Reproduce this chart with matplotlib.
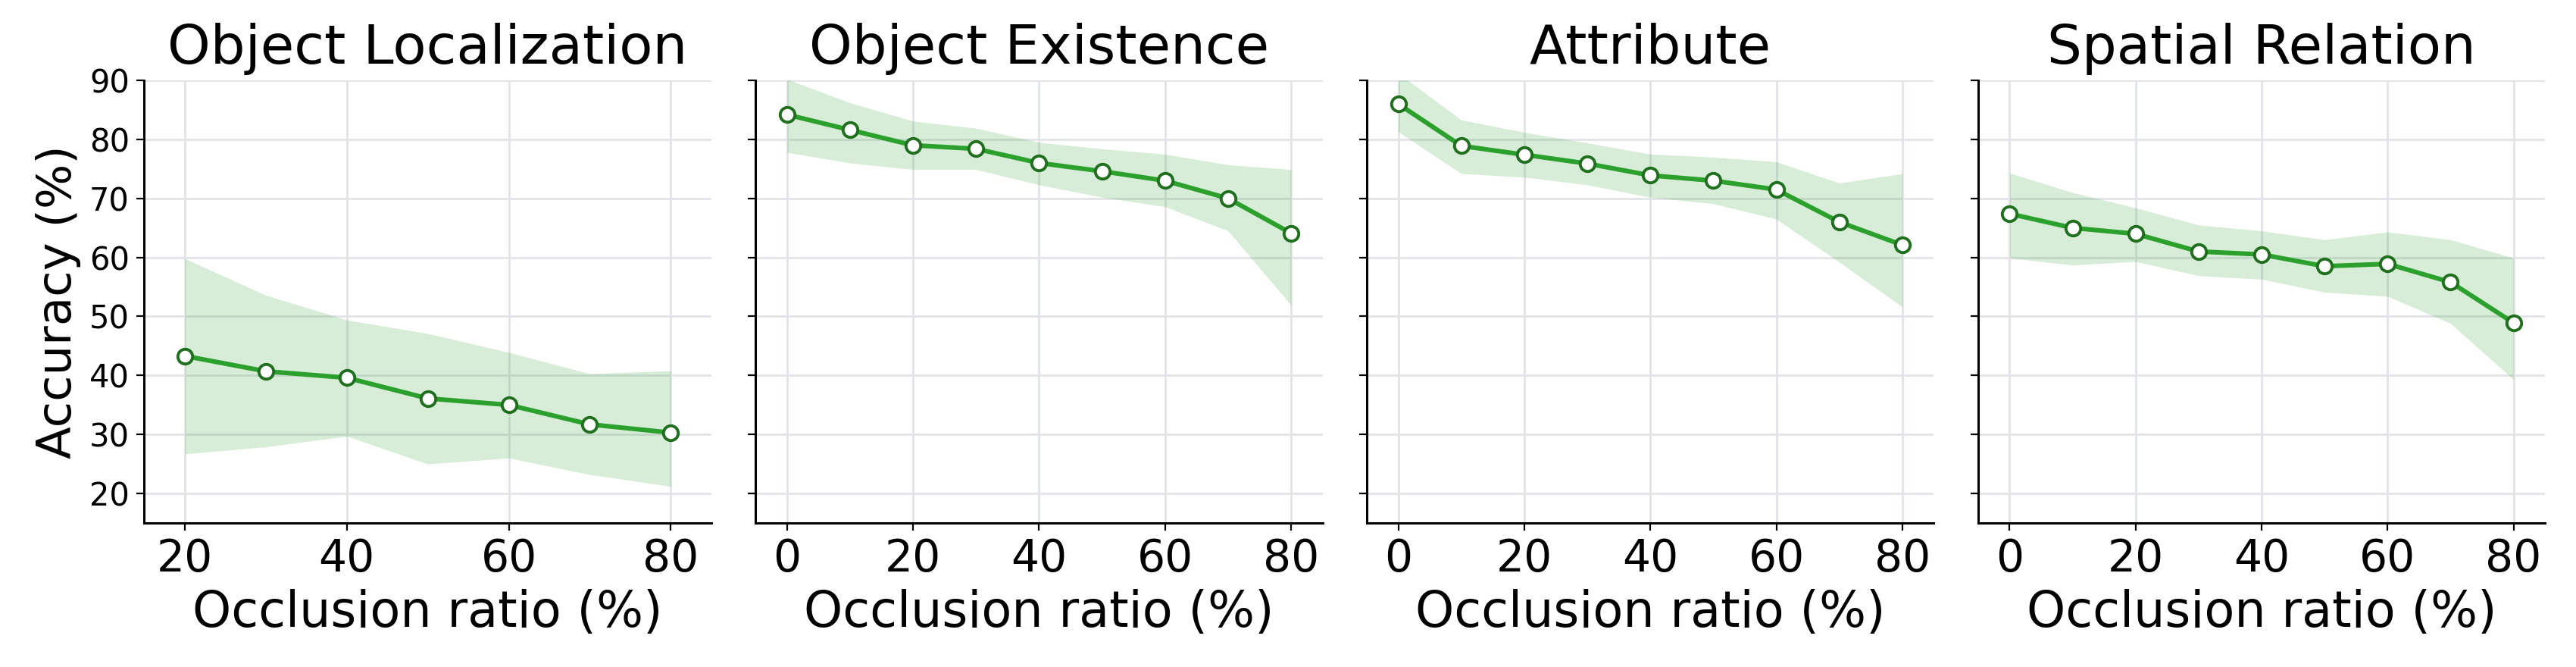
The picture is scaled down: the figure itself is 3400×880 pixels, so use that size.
import numpy as np
import matplotlib.pyplot as plt

# occlusion ratios (%) per panel
titles = ["Object Localization", "Object Existence", "Attribute", "Spatial Relation"]
x_loc = [20, 30, 40, 50, 60, 70, 80]
x_full = [0, 10, 20, 30, 40, 50, 60, 70, 80]

# mean accuracy (%)
loc_mean = [43.3, 40.7, 39.6, 36.1, 35.0, 31.7, 30.3]
exist_mean = [84.2, 81.6, 79.0, 78.4, 76.0, 74.6, 73.0, 70.0, 64.1]
attr_mean = [86.0, 78.9, 77.4, 75.9, 73.9, 73.0, 71.5, 66.0, 62.1]
spat_mean = [67.4, 65.0, 64.0, 61.0, 60.5, 58.5, 58.9, 55.8, 48.9]

# shaded band (upper / lower)
loc_hi = [59.8, 53.6, 49.4, 47.1, 43.9, 40.3, 40.8]
loc_lo = [26.7, 27.9, 29.7, 25.0, 26.0, 23.2, 21.2]
exist_hi = [90.2, 86.2, 83.1, 81.9, 79.5, 78.4, 77.5, 75.7, 74.9]
exist_lo = [77.8, 76.0, 74.9, 74.9, 72.3, 70.2, 68.6, 64.5, 51.9]
attr_hi = [91.2, 83.3, 81.2, 79.4, 77.5, 77.0, 76.2, 72.6, 74.2]
attr_lo = [81.3, 74.2, 73.6, 72.3, 70.2, 69.1, 66.5, 59.2, 51.6]
spat_hi = [74.3, 71.0, 68.4, 65.5, 64.5, 63.0, 64.3, 63.0, 59.9]
spat_lo = [59.9, 58.7, 59.3, 56.9, 56.3, 54.1, 53.4, 48.8, 39.3]

panels = [
    (x_loc, loc_mean, loc_lo, loc_hi),
    (x_full, exist_mean, exist_lo, exist_hi),
    (x_full, attr_mean, attr_lo, attr_hi),
    (x_full, spat_mean, spat_lo, spat_hi),
]

green = "#2ca02c"

fig, axes = plt.subplots(1, 4, figsize=(17, 4.4), dpi=200, sharey=True)
fig.subplots_adjust(left=0.056, right=0.988, top=0.8795, bottom=0.216, wspace=0.078)

for ax, title, (x, m, lo, hi) in zip(axes, titles, panels):
    x = np.array(x)
    ax.fill_between(x, lo, hi, color=green, alpha=0.18, linewidth=0, zorder=1)
    ax.plot(x, m, color=green, linewidth=2.2, marker="o", markersize=7,
            markerfacecolor="white", markeredgecolor="#1f6f1f",
            markeredgewidth=1.4, zorder=3)
    ax.set_title(title, fontsize=26, pad=8)
    ax.set_xlabel("Occlusion ratio (%)", fontsize=23.5)
    ax.set_xlim(x.min() - 5, x.max() + 5)
    ax.set_xticks(np.arange(x.min(), 81, 20))
    ax.tick_params(axis="x", labelsize=21)
    ax.tick_params(axis="y", labelsize=15)
    ax.grid(True, color="#e2e4e8", linewidth=1.0)
    ax.set_axisbelow(True)
    ax.spines["top"].set_visible(False)
    ax.spines["right"].set_visible(False)
    for s in ("left", "bottom"):
        ax.spines[s].set_linewidth(1.1)

axes[0].set_ylim(15, 90)
axes[0].set_yticks(range(20, 91, 10))
axes[0].set_ylabel("Accuracy (%)", fontsize=22.5)

fig.savefig("out.png", dpi=200)
